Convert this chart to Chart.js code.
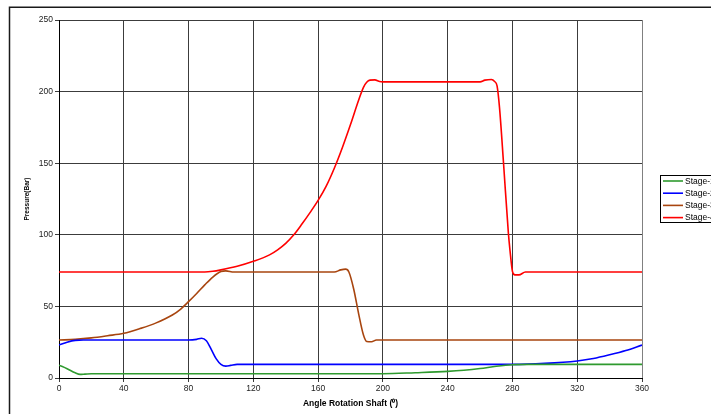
<!DOCTYPE html>
<html>
<head>
<meta charset="utf-8">
<script src="https://cdn.jsdelivr.net/npm/chart.js@4.4.0/dist/chart.umd.min.js"></script>
<style>
  html, body { margin: 0; padding: 0; background: #ffffff; overflow: hidden; }
  #wrap { width: 711px; height: 414px; }
</style>
</head>
<body>
<div id="wrap"><canvas id="c" width="711" height="414"></canvas></div>
<script>
// ---- Data ----
const seriesLabels = ["Stage-1", "Stage-2", "Stage-3", "Stage-4"];

const stage1Angles   = [0, 5, 10, 13, 16, 20, 60, 100, 140, 180, 200, 220, 240, 250, 260, 270, 280, 290, 320, 360];
const stage1Pressure = [9, 6.5, 3.6, 2.5, 2.7, 3, 3, 3, 3, 3, 3, 3.7, 4.6, 5.4, 6.6, 8.2, 9.3, 9.5, 9.5, 9.5];

const stage2Angles   = [0, 5, 10, 15, 40, 80, 85, 88, 91, 94, 97, 100, 103, 106, 110, 200, 280, 300, 320, 330, 340, 350, 360];
const stage2Pressure = [23, 25, 26.3, 26.5, 26.5, 26.5, 27, 27.8, 26, 20, 13.5, 9.5, 8.3, 8.8, 9.5, 9.5, 9.5, 10.2, 11.9, 13.6, 16.2, 19.2, 23];

const stage3Angles   = [0, 10, 20, 30, 40, 50, 60, 70, 75, 80, 85, 90, 95, 100, 103, 108, 170, 174, 177, 179, 182, 185, 188, 190, 193, 196, 200, 360];
const stage3Pressure = [26.5, 27, 28, 29.5, 31.2, 34.5, 38.5, 44, 48, 53.3, 59, 65, 70.5, 74.3, 74.8, 74, 74, 75.5, 76, 74, 62, 45, 30, 25.5, 25.3, 26.5, 26.5, 26.5];

const stage4Angles   = [0, 80, 90, 95, 100, 110, 120, 130, 135, 140, 145, 150, 155, 160, 165, 170, 175, 180, 185, 188, 190, 192, 195, 198, 200, 260, 263, 267, 269, 270.5, 272, 274.5, 277.5, 278.5, 280, 281.5, 284, 288, 360];
const stage4Pressure = [74, 74, 74, 74.5, 75.5, 78, 81.5, 86, 89.5, 94, 100, 107.5, 115.5, 124, 134, 146.5, 161, 177, 194, 203, 206.5, 208, 208.2, 207, 206.8, 206.8, 208, 208.5, 207, 204, 189, 150, 101, 89, 74.5, 72, 72, 74, 74];

const xTicks = [0, 40, 80, 120, 160, 200, 240, 280, 320, 360];
const yTicks = [0, 50, 100, 150, 200, 250];

const seriesColors = ["#2f9a2f", "#0000ff", "#a8450f", "#ff0000"];

// ---- build datasets ----
function pts(xs, ys) { return xs.map((x, i) => ({ x: x, y: ys[i] })); }
const seriesData = [
  pts(stage1Angles, stage1Pressure),
  pts(stage2Angles, stage2Pressure),
  pts(stage3Angles, stage3Pressure),
  pts(stage4Angles, stage4Pressure)
];

const datasets = seriesLabels.map((lab, i) => ({
  label: lab,
  data: seriesData[i],
  borderColor: seriesColors[i],
  backgroundColor: seriesColors[i],
  borderWidth: 1.6,
  pointRadius: 0,
  fill: false,
  cubicInterpolationMode: 'monotone'
}));

// frame + legend plugin
const decor = {
  id: 'decor',
  beforeDraw(chart) {
    const ctx = chart.ctx;
    ctx.save();
    ctx.fillStyle = '#ffffff';
    ctx.fillRect(0, 0, chart.width, chart.height);
    ctx.strokeStyle = '#1a1a1a';
    ctx.lineWidth = 1.5;
    ctx.beginPath();
    ctx.moveTo(9.5, chart.height + 2);
    ctx.lineTo(9.5, 7.25);
    ctx.lineTo(chart.width + 2, 7.25);
    ctx.stroke();
    ctx.restore();
  },
  afterDraw(chart) {
    const ctx = chart.ctx;
    ctx.save();
    // right border of plot area
    const a = chart.chartArea;
    ctx.strokeStyle = '#808080';
    ctx.lineWidth = 1;
    ctx.beginPath();
    ctx.moveTo(Math.round(a.right) + 0.5, a.top);
    ctx.lineTo(Math.round(a.right) + 0.5, a.bottom);
    ctx.stroke();
    // legend box
    const bx = 660.5, by = 175.5, bw = 80, bh = 47;
    ctx.strokeStyle = '#000000';
    ctx.lineWidth = 1;
    ctx.strokeRect(bx, by, bw, bh);
    ctx.font = '8.5px "Liberation Sans", Arial, sans-serif';
    ctx.textBaseline = 'middle';
    ctx.fillStyle = '#000000';
    chart.data.datasets.forEach((ds, i) => {
      const yy = 181 + i * 12.2;
      ctx.strokeStyle = ds.borderColor;
      ctx.lineWidth = 1.6;
      ctx.beginPath();
      ctx.moveTo(663, yy);
      ctx.lineTo(683, yy);
      ctx.stroke();
      ctx.fillText(ds.label, 685, yy + 0.5);
    });
    ctx.restore();
  }
};

new Chart(document.getElementById('c'), {
  type: 'line',
  data: { datasets: datasets },
  plugins: [decor],
  options: {
    responsive: false,
    animation: false,
    events: [],
    layout: { padding: { left: 0, right: 69, top: 20, bottom: 0 } },
    plugins: {
      legend: { display: false },
      tooltip: { enabled: false }
    },
    scales: {
      x: {
        type: 'linear',
        min: 0, max: 360,
        afterBuildTicks: s => { s.ticks = xTicks.map(v => ({ value: v })); },
        afterFit: s => { s.height = 36; },
        ticks: {
          color: '#222222',
          padding: 2,
          maxRotation: 0,
          font: { family: '"Liberation Sans", Arial, sans-serif', size: 8.5 }
        },
        grid: { color: '#3c3c3c', lineWidth: 1, tickLength: 4 },
        border: { color: '#000000', width: 1 },
        title: {
          display: true,
          text: 'Angle Rotation Shaft (\u2070)',
          color: '#000000',
          font: { family: '"Liberation Sans", Arial, sans-serif', size: 8.5, weight: 'bold' },
          padding: { top: 0, bottom: 5 }
        }
      },
      y: {
        min: 0, max: 250,
        afterBuildTicks: s => { s.ticks = yTicks.map(v => ({ value: v })); },
        afterFit: s => { s.width = 59; },
        ticks: {
          color: '#222222',
          padding: 2,
          font: { family: '"Liberation Sans", Arial, sans-serif', size: 8.5 }
        },
        grid: { color: '#3c3c3c', lineWidth: 1, tickLength: 4 },
        border: { color: '#000000', width: 1 },
        title: {
          display: true,
          text: 'Pressure(Bar)',
          color: '#000000',
          font: { family: '"Liberation Sans", Arial, sans-serif', size: 6.5, weight: 'bold' },
          padding: { top: 23, bottom: 0 }
        }
      }
    }
  }
});
</script>
</body>
</html>
